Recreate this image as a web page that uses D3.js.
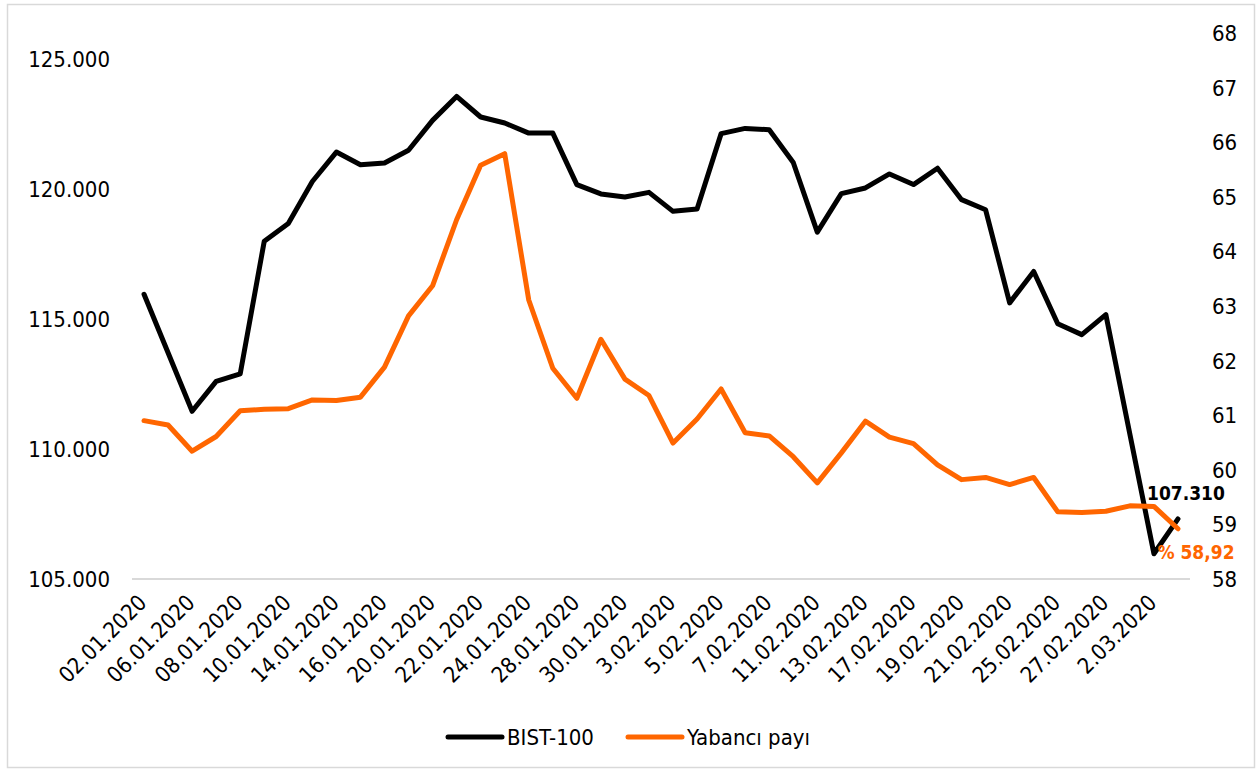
<!DOCTYPE html>
<html>
<head>
<meta charset="utf-8">
<script src="https://cdn.jsdelivr.net/npm/d3@7"></script>
<style>
  body { margin: 0; background: #fff; }
  svg text { font-family: "DejaVu Sans Condensed", "DejaVu Sans", sans-serif; font-stretch: condensed; }
</style>
</head>
<body>
<div id="chart"></div>
<script>
'use strict'

// dates on the x axis (every other one is labelled)
const dates = ["02.01.2020","03.01.2020","06.01.2020","07.01.2020","08.01.2020","09.01.2020","10.01.2020",
  "13.01.2020","14.01.2020","15.01.2020","16.01.2020","17.01.2020","20.01.2020","21.01.2020","22.01.2020",
  "23.01.2020","24.01.2020","27.01.2020","28.01.2020","29.01.2020","30.01.2020","31.01.2020","3.02.2020",
  "4.02.2020","5.02.2020","6.02.2020","7.02.2020","10.02.2020","11.02.2020","12.02.2020","13.02.2020",
  "14.02.2020","17.02.2020","18.02.2020","19.02.2020","20.02.2020","21.02.2020","24.02.2020","25.02.2020",
  "26.02.2020","27.02.2020","28.02.2020","2.03.2020","3.03.2020"]

// BIST-100 index (left axis)
const bist = [115950, 113700, 111450, 112600, 112890, 117990, 118670, 120290, 121420, 120930, 121000,
  121490, 122640, 123560, 122770, 122540, 122150, 122150, 120170, 119810, 119690, 119870, 119140,
  119230, 122130, 122330, 122280, 121020, 118340, 119820, 120040, 120580, 120170, 120800, 119590,
  119200, 115620, 116830, 114820, 114400, 115170, 110570, 105970, 107310]

// foreign share, % (right axis)
const yabanci = [60.90, 60.82, 60.34, 60.61, 61.08, 61.11, 61.12, 61.28, 61.27, 61.33, 61.88, 62.82,
  63.37, 64.58, 65.58, 65.79, 63.11, 61.86, 61.31, 62.39, 61.66, 61.36, 60.49, 60.93, 61.48, 60.68,
  60.62, 60.24, 59.76, 60.31, 60.89, 60.60, 60.48, 60.09, 59.82, 59.86, 59.73, 59.86, 59.23, 59.22,
  59.24, 59.34, 59.33, 58.92]

const leftTicks = [105000, 110000, 115000, 120000, 125000]
const rightTicks = [58, 59, 60, 61, 62, 63, 64, 65, 66, 67, 68]

const seriesNames = ["BIST-100", "Yabancı payı"]
const black = "#000000"
const orange = "#ff6600"

const width = 1259
const height = 771

const trFormat = d3.formatLocale({decimal: ",", thousands: ".", grouping: [3], currency: ["", ""]})
const fmtThousands = trFormat.format(",")
const fmtPct = trFormat.format(".2f")

const svg = d3.select("#chart").append("svg")
  .attr("width", width)
  .attr("height", height)

// outer frame
svg.append("rect")
  .attr("x", 7.5).attr("y", 4.5)
  .attr("width", 1247).attr("height", 763)
  .attr("fill", "none")
  .attr("stroke", "#d9d9d9")
  .attr("stroke-width", 1.5)

const x = d3.scaleBand().domain(dates).range([132, 1190]).padding(0)
const xc = d => x(d) + x.bandwidth() / 2

const yL = d3.scaleLinear().domain([105000, 126000]).range([579, 33])
const yR = d3.scaleLinear().domain([58, 68]).range([579, 33])

// baseline
svg.append("line")
  .attr("x1", 132).attr("x2", 1190)
  .attr("y1", yL(105000)).attr("y2", yL(105000))
  .attr("stroke", "#d9d9d9")
  .attr("stroke-width", 2)

// left axis labels
svg.append("g").selectAll("text")
  .data(leftTicks)
  .enter().append("text")
    .attr("x", 110)
    .attr("y", d => yL(d))
    .attr("dy", "0.36em")
    .attr("text-anchor", "end")
    .attr("font-size", 22)
    .attr("fill", "#000")
    .text(d => fmtThousands(d))

// right axis labels
svg.append("g").selectAll("text")
  .data(rightTicks)
  .enter().append("text")
    .attr("x", 1212)
    .attr("y", d => yR(d))
    .attr("dy", "0.36em")
    .attr("text-anchor", "start")
    .attr("font-size", 22)
    .attr("fill", "#000")
    .text(d => d)

// x labels, rotated
svg.append("g").selectAll("text")
  .data(dates.filter((d, i) => i % 2 === 0))
  .enter().append("text")
    .attr("transform", d => "translate(" + (xc(d) + 4) + ",604) rotate(-45)")
    .attr("text-anchor", "end")
    .attr("font-size", 22)
    .attr("fill", "#000")
    .text(d => d)

const lineL = d3.line().x((d, i) => xc(dates[i])).y(d => yL(d))
const lineR = d3.line().x((d, i) => xc(dates[i])).y(d => yR(d))

svg.append("path")
  .datum(bist)
  .attr("d", lineL)
  .attr("fill", "none")
  .attr("stroke", black)
  .attr("stroke-width", 5)
  .attr("stroke-linejoin", "round")
  .attr("stroke-linecap", "round")

svg.append("path")
  .datum(yabanci)
  .attr("d", lineR)
  .attr("fill", "none")
  .attr("stroke", orange)
  .attr("stroke-width", 5)
  .attr("stroke-linejoin", "round")
  .attr("stroke-linecap", "round")

// end labels
const last = dates.length - 1
svg.append("text")
  .attr("x", xc(dates[last]) + 8)
  .attr("y", yL(bist[last]) - 26)
  .attr("dy", "0.36em")
  .attr("text-anchor", "middle")
  .attr("font-size", 19)
  .attr("font-weight", "bold")
  .attr("fill", black)
  .text(fmtThousands(bist[last]))

svg.append("text")
  .attr("x", xc(dates[last]) + 18)
  .attr("y", yR(yabanci[last]) + 23)
  .attr("dy", "0.36em")
  .attr("text-anchor", "middle")
  .attr("font-size", 19)
  .attr("font-weight", "bold")
  .attr("fill", orange)
  .text("% " + fmtPct(yabanci[last]))

// legend
const legend = svg.append("g").selectAll("g")
  .data(seriesNames)
  .enter().append("g")
    .attr("transform", (d, i) => "translate(" + (i === 0 ? 448 : 628) + ",737)")

legend.append("line")
  .attr("x1", 0).attr("x2", 54)
  .attr("stroke", (d, i) => i === 0 ? black : orange)
  .attr("stroke-width", 5)
  .attr("stroke-linecap", "round")

legend.append("text")
  .attr("x", 59)
  .attr("dy", "0.36em")
  .attr("font-size", 22)
  .attr("fill", "#000")
  .text(d => d)
</script>
</body>
</html>
